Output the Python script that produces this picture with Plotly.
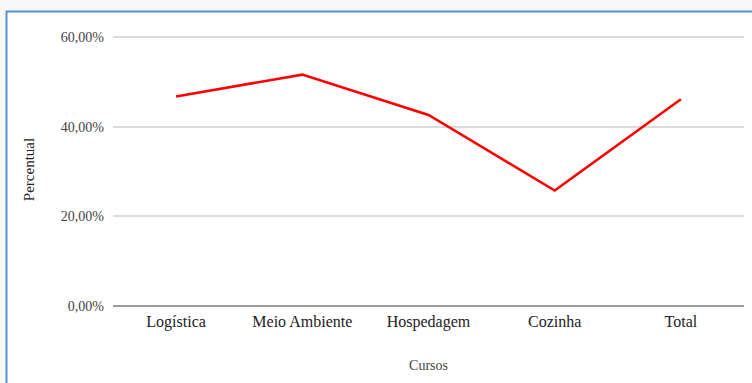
import plotly.graph_objects as go

# Share of students per course
cursos = ["Logística", "Meio Ambiente", "Hospedagem", "Cozinha", "Total"]
percentual = [46.8, 51.7, 42.7, 25.8, 46.2]

y_ticks = [0, 20, 40, 60]
y_tick_labels = ["0,00%", "20,00%", "40,00%", "60,00%"]

W, H = 752, 383
L, R, T, B = 113, 8, 33, 77
pw, ph = W - L - R, H - T - B
y_top = 61  # headroom so the 60% gridline is drawn


def px_x(p):
    return (p - L) / pw


def px_y(p):
    return (H - B - p) / ph


fig = go.Figure()
fig.add_trace(go.Scatter(
    x=cursos, y=percentual, mode="lines",
    line=dict(color="#ff0000", width=2.6),
    hoverinfo="skip", showlegend=False,
))

serif = "Liberation Serif, Times New Roman, serif"

fig.update_layout(
    width=W, height=H,
    margin=dict(l=L, r=R, t=T, b=B),
    paper_bgcolor="#f8f8f8",
    plot_bgcolor="rgba(0,0,0,0)",
    font=dict(family=serif, color="#333333"),
    xaxis=dict(
        showgrid=False, zeroline=False,
        showline=False,
        tickfont=dict(size=16, color="#222222"),
        ticks="", ticklabelstandoff=4,
        title=dict(text="Cursos", font=dict(size=14, color="#444444"), standoff=30),
        range=[-0.5, len(cursos) - 0.5],
        fixedrange=True,
    ),
    yaxis=dict(
        range=[0, y_top], tickvals=y_ticks, ticktext=y_tick_labels,
        showgrid=True, gridcolor="#dcdcdc", gridwidth=1.5,
        zeroline=True, zerolinecolor="#9a9a9a", zerolinewidth=2,
        tickfont=dict(size=14, color="#444444"),
        ticks="", ticklabelstandoff=8,
        title=dict(text="Percentual", font=dict(size=15, color="#222222"), standoff=22),
        fixedrange=True,
    ),
    shapes=[dict(
        type="rect", xref="paper", yref="paper", layer="below",
        x0=px_x(6.5), x1=px_x(W + 40), y0=px_y(H + 40), y1=px_y(11.5),
        fillcolor="#ffffff", line=dict(color="#5b8fcf", width=2),
    )],
)

fig.write_html("out.html", config={"displayModeBar": False})
